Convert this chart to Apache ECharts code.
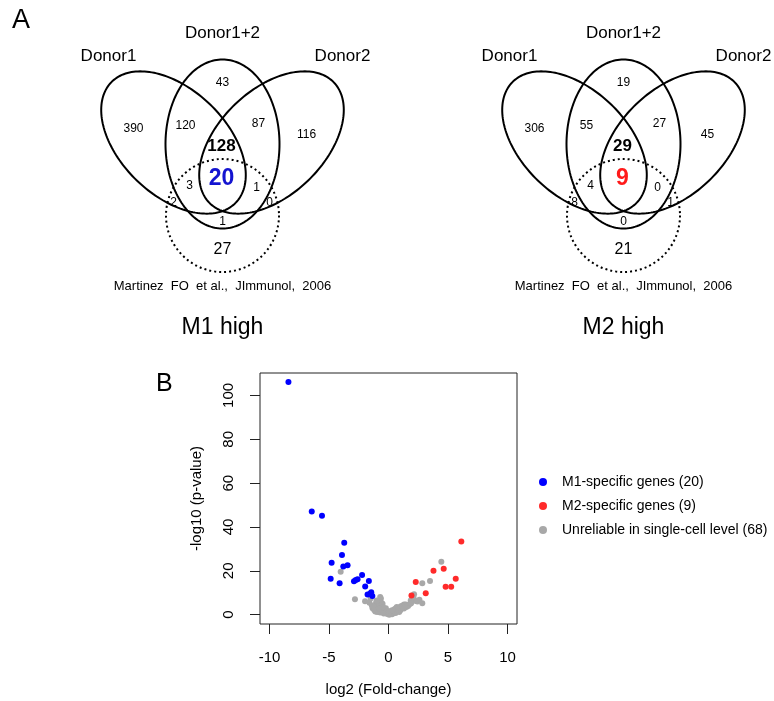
<!DOCTYPE html>
<html>
<head>
<meta charset="utf-8">
<script src="https://cdn.jsdelivr.net/npm/echarts@6/dist/echarts.min.js"></script>
<style>
  html, body { margin: 0; padding: 0; background: #fff; }
  #chart { width: 774px; height: 701px; }
</style>
</head>
<body>
<div id="chart"></div>
<script>
// ---------- data ----------
// volcano plot points: [log2 fold-change, -log10 p-value]
const m1Genes = [
  [-8.41, 106.1], [-6.45, 47.1], [-5.59, 45.1], [-3.72, 32.8], [-3.91, 27.2],
  [-4.78, 23.7], [-3.80, 22.0], [-3.44, 22.6], [-4.86, 16.4], [-4.11, 14.4],
  [-2.90, 15.3], [-2.60, 16.2], [-2.22, 18.1], [-1.65, 15.4], [-1.96, 12.9],
  [-1.76, 9.2], [-1.45, 10.2], [-1.36, 8.5], [-2.75, 15.8], [-1.55, 9.6]
];
const m2Genes = [
  [6.12, 33.4], [4.64, 21.0], [3.78, 20.1], [5.65, 16.4], [2.29, 14.9],
  [4.80, 12.8], [5.27, 12.8], [3.13, 9.8], [1.93, 8.8]
];
const unreliableGenes = [
  [-4.02, 19.6], [-2.82, 7.1], [-1.97, 6.1], [-1.50, 7.4], [-0.70, 8.1],
  [-0.64, 7.4], [2.15, 9.3], [2.84, 14.4], [3.49, 15.4], [4.44, 24.2],
  [2.30, 6.2], [2.84, 5.2], [1.87, 6.5], [-1.34, 3.0], [-1.11, 1.5],
  [-1.05, 5.3], [-0.90, 4.4], [-0.78, 3.8], [-0.60, 5.4], [-0.50, 2.3],
  [-0.50, 5.0], [-0.35, 2.0], [-0.22, 0.8], [-0.22, 3.0], [-0.10, 0.3],
  [-1.25, 3.6], [-1.40, 4.2], [-0.95, 1.2], [-0.70, 1.0], [-0.45, 3.4],
  [-0.15, 1.2], [-0.40, 0.5], [-1.20, 2.2], [-0.80, 2.8], [-1.00, 6.5],
  [-1.60, 5.5], [0.06, 0.0], [0.00, 1.0], [0.15, 0.6], [0.20, 1.5],
  [0.30, 0.2], [0.34, 0.8], [0.10, 1.6], [0.45, 1.0], [0.50, 2.5],
  [0.62, 1.5], [0.60, 0.8], [0.62, 3.0], [0.70, 3.5], [0.80, 2.2],
  [0.89, 3.0], [0.90, 1.2], [1.00, 2.0], [1.00, 3.2], [1.04, 3.8],
  [1.17, 3.8], [1.20, 4.2], [1.30, 2.8], [1.31, 4.6], [1.45, 4.6],
  [1.50, 3.5], [1.65, 4.0], [1.80, 4.9], [1.90, 5.2], [2.10, 7.8],
  [2.43, 6.0], [2.60, 6.8], [0.30, 2.0]
];
const seriesNames = ['M1-specific genes (20)', 'M2-specific genes (9)', 'Unreliable in single-cell level (68)'];
const xTicks = [-10, -5, 0, 5, 10];
const yTicks = [0, 20, 40, 60, 80, 100];

// Venn counts, one per region (same region order for both panels)
// D1 only, D1&D1+2, D1+2 only, D2&D1+2, D2 only, core, core&lit,
// D1&D1+2&lit, D2&D1+2&lit, D1&lit, D2&lit, D1+2&lit, lit only
const m1Counts = [390, 120, 43, 87, 116, 128, 20, 3, 1, 2, 0, 1, 27];
const m2Counts = [306, 55, 19, 27, 45, 29, 9, 4, 0, 8, 1, 0, 21];
const setNames = ['Donor1', 'Donor1+2', 'Donor2'];
const vennTitles = ['M1 high', 'M2 high'];
const citation = 'Martinez  FO  et al.,  JImmunol,  2006';

// ---------- layout ----------
const FONT = '"Liberation Sans", Arial, sans-serif';
const panelCenters = [[222.5, 144], [623.5, 144]];
const vennEllipses = [
  { cx: -49, cy: -1.5, a: 86.6, b: 52.8, angle: 44 },
  { cx: 49, cy: -1.5, a: 86.6, b: 52.8, angle: -44 },
  { cx: 0, cy: 0, a: 57, b: 84.5, angle: 0 }
];
const litCircle = { cx: 0, cy: 71.5, r: 56.5 };
const regionPos = [[-89, -15], [-37, -18], [0, -61], [36, -20], [84, -9], [-1, 2], [-1, 35],
  [-33, 42], [34, 44], [-49, 59], [47, 59], [0, 78], [0, 106]];
const setLabelPos = [[-114, -88], [0, -111], [120, -88]];
const coreColors = ['#1414d0', '#ff1a1a'];

function txt(x, y, text, font, fill) {
  return { type: 'text', x: x, y: y,
    style: { text: text, font: font, fill: fill || '#000', align: 'center', verticalAlign: 'middle' } };
}

function vennItem(params, api) {
  const panel = api.value(2);
  const c = api.coord([api.value(0), api.value(1)]);
  const counts = panel === 0 ? m1Counts : m2Counts;
  const children = [];
  vennEllipses.forEach(function (e) {
    const th = e.angle * Math.PI / 180;
    const pts = [];
    for (let i = 0; i < 180; i++) {
      const t = i / 180 * Math.PI * 2;
      pts.push([
        c[0] + e.cx + e.a * Math.cos(t) * Math.cos(th) - e.b * Math.sin(t) * Math.sin(th),
        c[1] + e.cy + e.a * Math.cos(t) * Math.sin(th) + e.b * Math.sin(t) * Math.cos(th)
      ]);
    }
    children.push({ type: 'polygon', shape: { points: pts },
      style: { fill: 'none', stroke: '#000', lineWidth: 2 } });
  });
  children.push({ type: 'circle',
    shape: { cx: c[0] + litCircle.cx, cy: c[1] + litCircle.cy, r: litCircle.r },
    style: { fill: 'none', stroke: '#000', lineWidth: 2, lineDash: [2, 3] } });

  counts.forEach(function (n, i) {
    const p = regionPos[i];
    let font = '12px ' + FONT, fill = '#000';
    if (i === 5) font = 'bold 17px ' + FONT;
    if (i === 6) { font = 'bold 23px ' + FONT; fill = coreColors[panel]; }
    if (i === 12) font = '16px ' + FONT;
    children.push(txt(c[0] + p[0], c[1] + p[1], String(n), font, fill));
  });
  setNames.forEach(function (s, i) {
    children.push(txt(c[0] + setLabelPos[i][0], c[1] + setLabelPos[i][1], s, '17px ' + FONT));
  });
  children.push(txt(c[0], c[1] + 142.7, citation, '13px ' + FONT));
  children.push(txt(c[0], c[1] + 184, vennTitles[panel], '23px ' + FONT));
  return { type: 'group', children: children };
}

const chart = echarts.init(document.getElementById('chart'));
chart.setOption({
  animation: false,
  textStyle: { fontFamily: FONT },
  graphic: [
    { type: 'text', left: 12, top: 7, style: { text: 'A', font: '27px ' + FONT, fill: '#000' } },
    { type: 'text', left: 156, top: 372, style: { text: 'B', font: '25px ' + FONT, fill: '#000' } }
  ],
  legend: {
    data: seriesNames,
    orient: 'vertical',
    left: 534, top: 470,
    icon: 'circle',
    itemWidth: 28, itemHeight: 8, itemGap: 10,
    selectedMode: false,
    textStyle: { fontSize: 14, color: '#000', fontFamily: FONT }
  },
  grid: [
    { left: 260, top: 373, width: 257, height: 251, show: true, borderColor: '#222', borderWidth: 1, backgroundColor: 'transparent' },
    { left: 0, top: 0, width: 774, height: 701 }
  ],
  xAxis: [
    {
      gridIndex: 0, type: 'value', min: -10.8, max: 10.8,
      splitLine: { show: false },
      axisLine: { show: false, onZero: false },
      axisTick: { show: true, customValues: xTicks, length: 10, lineStyle: { color: '#222' } },
      axisLabel: { customValues: xTicks, margin: 26, fontSize: 15, color: '#000', fontFamily: FONT },
      name: 'log2 (Fold-change)', nameLocation: 'middle', nameGap: 58,
      nameTextStyle: { fontSize: 15, color: '#000', fontFamily: FONT }
    },
    { gridIndex: 1, type: 'value', min: 0, max: 774, show: false }
  ],
  yAxis: [
    {
      gridIndex: 0, type: 'value', min: -4.24, max: 110.24,
      splitLine: { show: false },
      axisLine: { show: false, onZero: false },
      axisTick: { show: true, customValues: yTicks, length: 10, lineStyle: { color: '#222' } },
      axisLabel: { customValues: yTicks, rotate: 90, margin: 24, fontSize: 15, color: '#000', fontFamily: FONT },
      name: '-log10 (p-value)', nameLocation: 'middle', nameGap: 56, nameRotate: 90,
      nameTextStyle: { fontSize: 15, color: '#000', fontFamily: FONT }
    },
    { gridIndex: 1, type: 'value', min: 0, max: 701, inverse: true, show: false }
  ],
  series: [
    {
      name: seriesNames[2], type: 'scatter', data: unreliableGenes,
      symbolSize: 6, itemStyle: { color: '#a8a8a8', opacity: 1 }, silent: true
    },
    {
      name: seriesNames[0], type: 'scatter', data: m1Genes,
      symbolSize: 6, itemStyle: { color: '#0000ff', opacity: 1 }, silent: true
    },
    {
      name: seriesNames[1], type: 'scatter', data: m2Genes,
      symbolSize: 6, itemStyle: { color: '#ff2a2a', opacity: 1 }, silent: true
    },
    {
      type: 'custom', xAxisIndex: 1, yAxisIndex: 1, silent: true,
      data: panelCenters.map(function (p, i) { return [p[0], p[1], i]; }),
      renderItem: vennItem
    }
  ]
});
</script>
</body>
</html>
